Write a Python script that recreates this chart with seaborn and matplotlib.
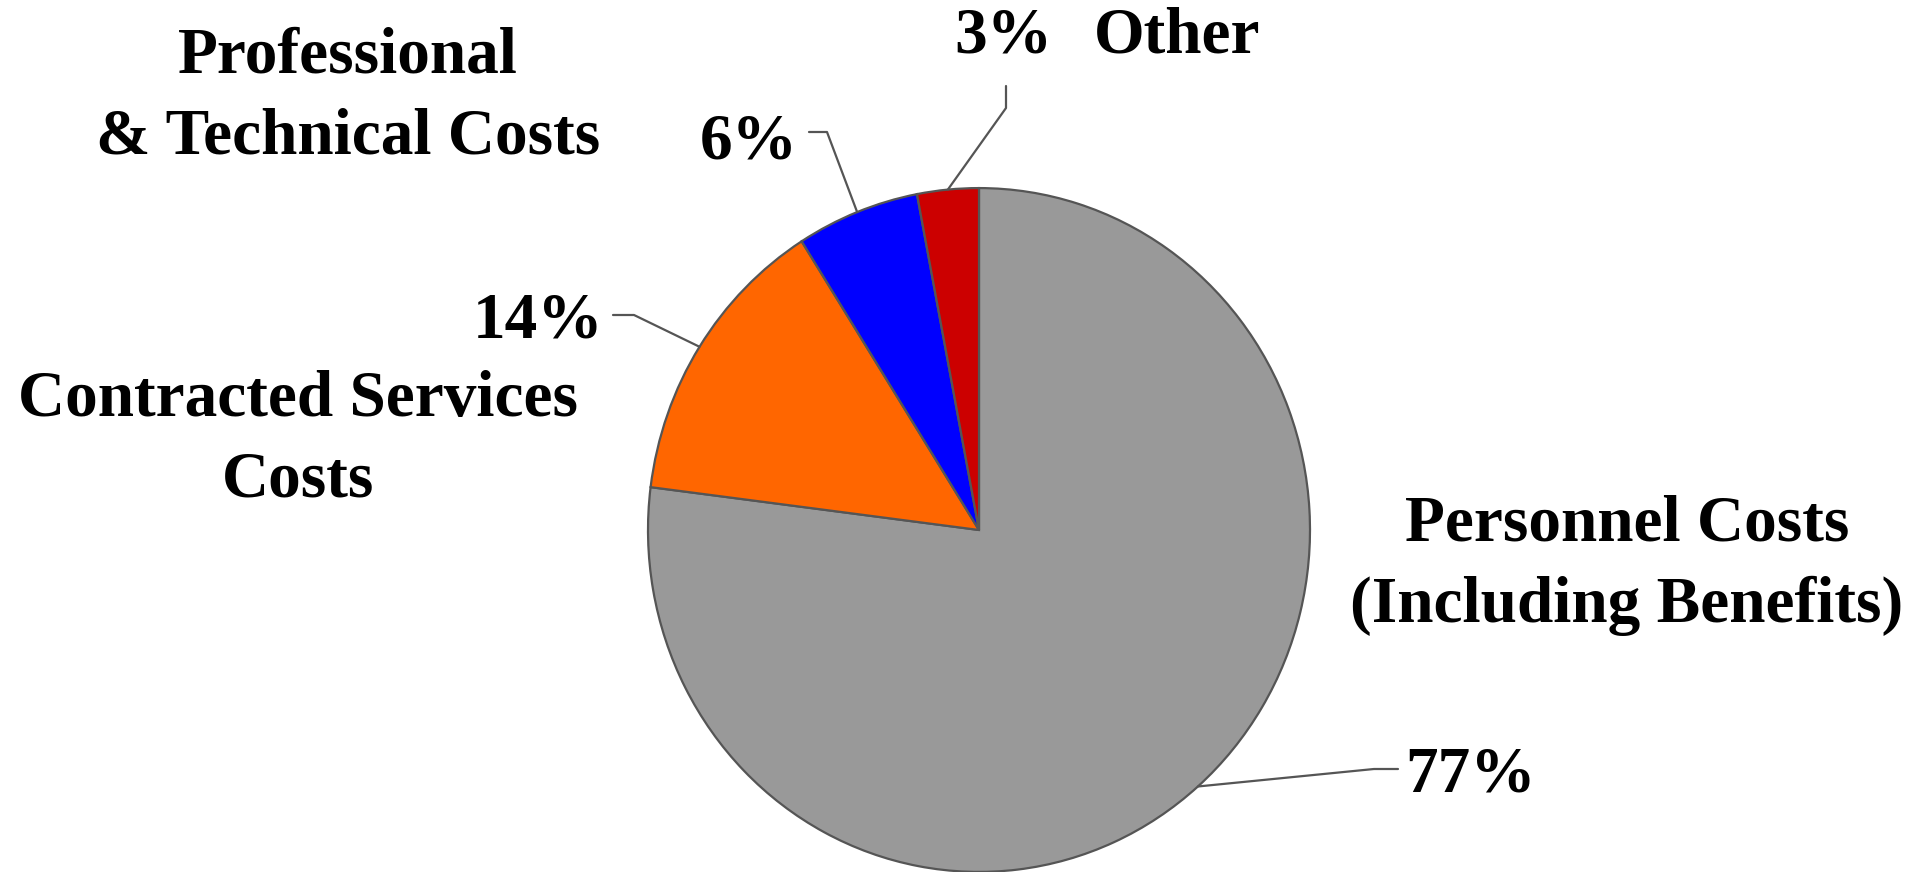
import numpy as np
import matplotlib
matplotlib.use("Agg")
import matplotlib.pyplot as plt
import seaborn as sns

categories = ["Personnel Costs\n(Including Benefits)", "Contracted Services\nCosts",
              "Professional\n& Technical Costs", "Other"]
shares = [77, 14, 6, 3]
colors = ["#999999", "#FF6600", "#0000FF", "#CC0000"]

sns.set_style("white")
plt.rcParams["font.family"] = ["Liberation Serif", "DejaVu Serif"]

W, H = 1923, 872
k = 1.033  # the original is a little stretched vertically


def py(y):
    # pixel row (from top) -> data y
    return (H - y) / k


fig = plt.figure(figsize=(W / 100, H / 100), dpi=100)
ax = fig.add_axes([0, 0, 1, 1])

cx, cy, r = 979, py(530), 331
wedges, _ = ax.pie(shares, colors=colors, startangle=90, counterclock=False,
                   center=(cx, cy), radius=r, frame=True,
                   wedgeprops=dict(edgecolor="#555555", linewidth=1.6))
ax.set_aspect("auto")
ax.set_xlim(0, W)
ax.set_ylim(0, H / k)
ax.axis("off")

fs = 47
tkw = dict(fontsize=fs, fontweight="bold", color="black")

# leader lines: from the wedge middle on the rim to an elbow, then to the label
elbows = [((1374, 769), (1398, 769)), ((634, 315), (613, 315)),
          ((827, 132), (809, 132)), ((1006, 108), (1006, 86))]
for w, (e1, e2) in zip(wedges, elbows):
    ang = np.deg2rad((w.theta1 + w.theta2) / 2)
    x0, y0 = cx + r * np.cos(ang), cy + r * np.sin(ang)
    ax.plot([x0, e1[0], e2[0]], [y0, py(e1[1]), py(e2[1])], color="#555555", lw=1.6)

# percentages
ax.text(1405, py(775), f"{shares[0]}%", ha="left", va="center", **tkw)
ax.text(603, py(321), f"{shares[1]}%", ha="right", va="center", **tkw)
ax.text(798, py(142), f"{shares[2]}%", ha="right", va="center", **tkw)
ax.text(1003, py(36), f"{shares[3]}%", ha="center", va="center", **tkw)

# category names
ax.text(1627, py(565), categories[0], ha="center", va="center", linespacing=1.45, **tkw)
ax.text(298, py(440), categories[1], ha="center", va="center", linespacing=1.45, **tkw)
ax.text(348, py(97), categories[2], ha="center", va="center", linespacing=1.45, **tkw)
ax.text(1177, py(36), categories[3], ha="center", va="center", **tkw)

fig.savefig("out.png", dpi=100, facecolor="white")
